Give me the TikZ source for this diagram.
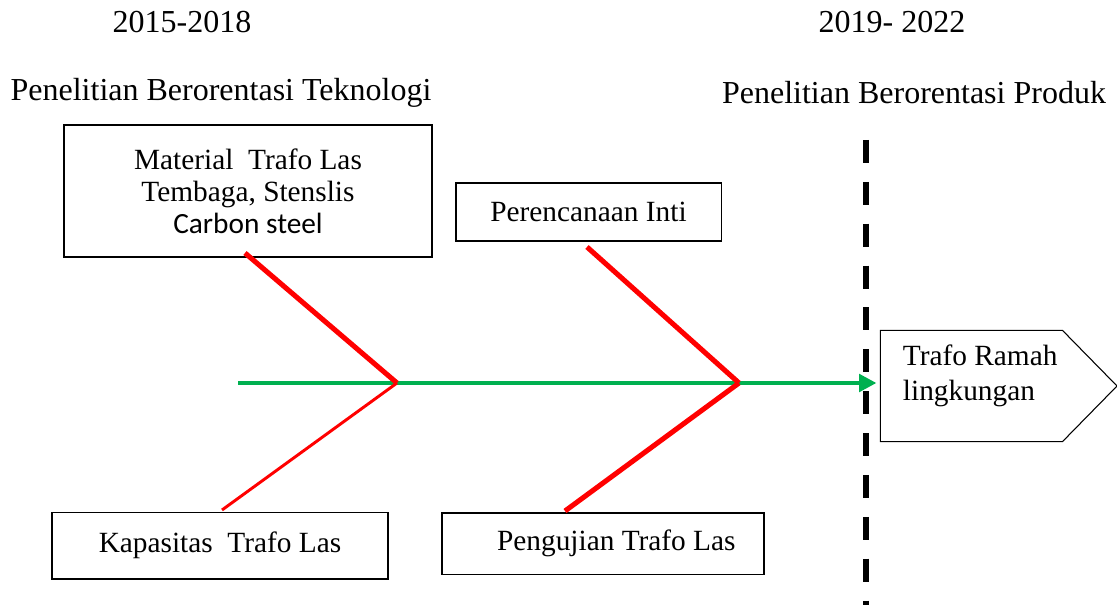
\documentclass[tikz,border=0pt]{standalone}
\usepackage{fontspec}
\setmainfont{Liberation Serif}
\newfontfamily\calibri{Carlito}
\usetikzlibrary{arrows.meta,calc}
\definecolor{fishred}{RGB}{255,0,0}
\definecolor{spinegreen}{RGB}{0,176,80}
\begin{document}
\begin{tikzpicture}[x=0.375pt, y=-0.375pt,
    font=\fontsize{12pt}{12pt}\selectfont,
    box/.style = {draw, line width=0.4pt, align=center, inner sep=0pt,
        font=\fontsize{11pt}{12pt}\selectfont},
    label/.style = {inner sep=0pt},
    bone/.style = {fishred, line width=1.9pt},
    thinbone/.style = {fishred, line width=1.1pt},
    spine/.style = {spinegreen, line width=1.5pt,
        -{Triangle[length=6.5pt,width=6.5pt]}, shorten >=1.5pt},
    border/.style = {black, line width=1.9pt, dash pattern=on 8.6pt off 7.1pt}]
  \useasboundingbox (0,0) rectangle (1117,609);
  \node (yrA) [label] at (182,22) {2015-2018};
  \node (yrB) [label] at (892,22) {2019- 2022};
  \node (tek) [label] at (221,93) {Penelitian Berorentasi Teknologi};
  \node (prd) [label] at (914,93) {Penelitian Berorentasi Produk};
  \node (mat) [box, minimum width=138pt, minimum height=49.5pt] at (248,191)
      {Material\ \ Trafo Las\\Tembaga, Stenslis\\{\calibri Carbon steel}};
  \node (inti) [box, minimum width=99.4pt, minimum height=21.75pt] at (588.5,212)
      {Perencanaan Inti};
  \node (kap) [box, minimum width=126pt, minimum height=25.1pt] at (220,545.5)
      {Kapasitas\ \ Trafo Las};
  \node (uji) [box, minimum width=120.75pt, minimum height=22.9pt] at (603,543.5)
      {\hspace{10pt}Pengujian Trafo Las};
  \node (goal) [minimum width=67.9pt, minimum height=41.25pt, inner sep=0pt] at (971.5,386) {};
  \node (goaltext) [label, anchor=west, align=left,
      font=\fontsize{11pt}{13pt}\selectfont] at ($(goal.west)+(22,-10)$)
      {Trafo Ramah\\lingkungan};
  \draw[line width=0.4pt] (goal.north west) -- (goal.north east) -- (1117,386)
      -- (goal.south east) -- (goal.south west) -- cycle;
  \coordinate (tail) at (238,383);
  \coordinate (jA) at (397,383);
  \coordinate (jB) at (739,383);
  \coordinate (matEnd) at (245,253);
  \coordinate (kapEnd) at (222,510);
  \coordinate (intiEnd) at (587,247);
  \coordinate (ujiEnd) at (565,511);
  \draw[border] (866,140) -- (866,605);
  \draw[spine] (tail) -- (tail -| goal.west);
  \draw[bone] (matEnd) -- (jA);
  \draw[thinbone] (kapEnd) -- (jA);
  \draw[bone] (intiEnd) -- (jB);
  \draw[bone] (ujiEnd) -- (jB);
\end{tikzpicture}
\end{document}
